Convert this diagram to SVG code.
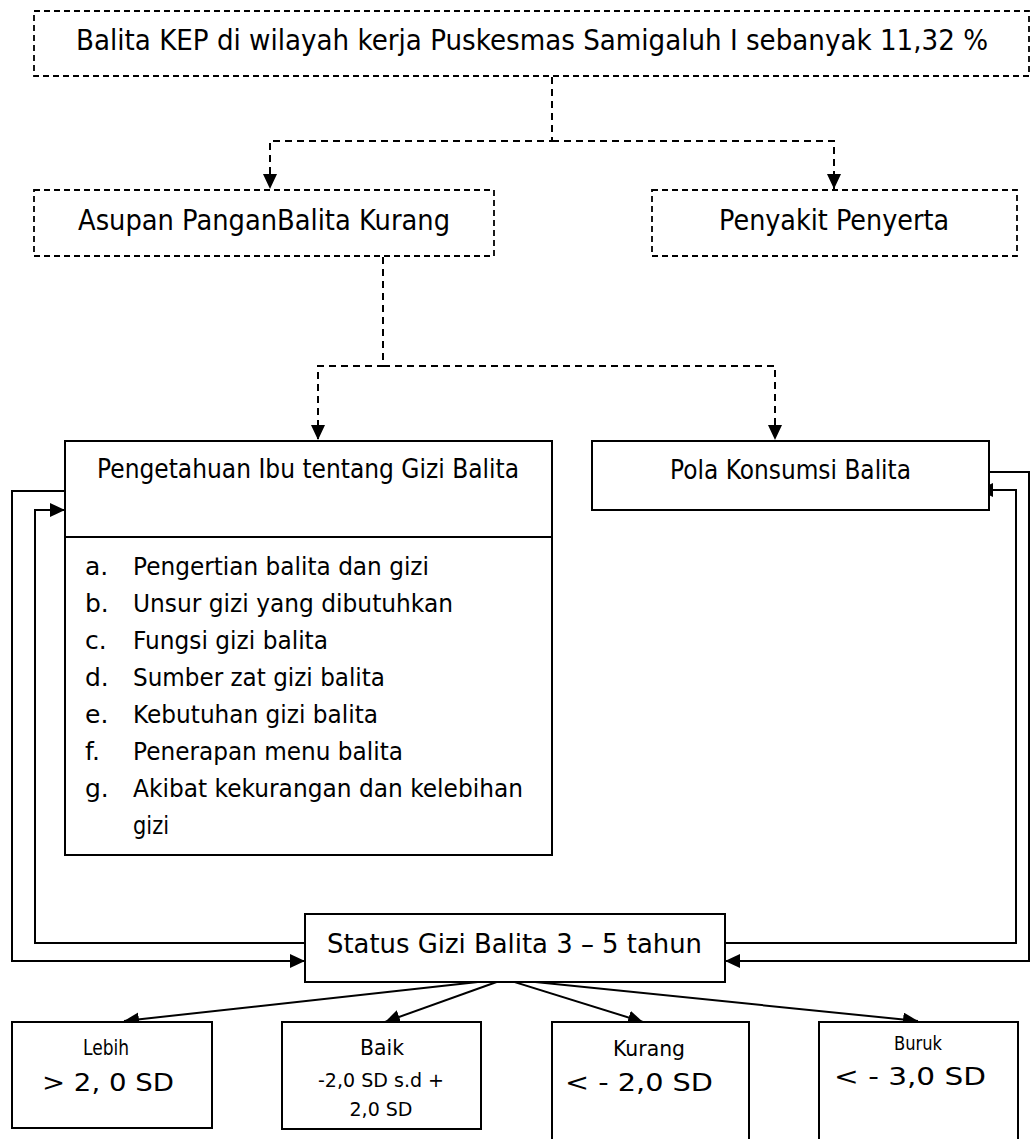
<svg xmlns="http://www.w3.org/2000/svg" width="1031" height="1139" viewBox="0 0 1031 1139">
<style>
text{font-family:"DejaVu Sans","Liberation Sans",sans-serif;fill:#000}
.dbox{fill:none;stroke:#000;stroke-width:1.8;stroke-dasharray:6 4}
.box{fill:#fff;stroke:#000;stroke-width:2}
.dline{fill:none;stroke:#000;stroke-width:2;stroke-dasharray:7 5}
.line{fill:none;stroke:#000;stroke-width:2}
.t28{font-size:28px}
.t27{font-size:27px}
.t26{font-size:26px}
.t25{font-size:25px}
.t21{font-size:21px}
.t20{font-size:20px}
.t19{font-size:19px}
</style>
<defs>
<marker id="ah" markerUnits="userSpaceOnUse" markerWidth="15" markerHeight="14" refX="15" refY="7" orient="auto">
<path d="M0,0 L15,7 L0,14 z" fill="#000"/>
</marker>
</defs>

<g id="connectors">
<path class="dline" d="M552,77 V141 H270 V189" marker-end="url(#ah)"/>
<path class="dline" d="M552,141 H834 V189" marker-end="url(#ah)"/>
<path class="dline" d="M383,257 V366 H318 V440" marker-end="url(#ah)"/>
<path class="dline" d="M383,366 H775 V440" marker-end="url(#ah)"/>
<path class="line" d="M65,491 H12 V961 H305" marker-end="url(#ah)"/>
<path class="line" d="M305,943 H35 V510 H65" marker-end="url(#ah)"/>
<path class="line" d="M989,472 H1029 V961 H725" marker-end="url(#ah)"/>
<path class="line" d="M725,943 H1016 V490 H978" marker-end="url(#ah)"/>
<path class="line" d="M505,979 L124,1021" marker-end="url(#ah)"/>
<path class="line" d="M505,979 L385,1022" marker-end="url(#ah)"/>
<path class="line" d="M505,979 L643,1022" marker-end="url(#ah)"/>
<path class="line" d="M505,979 L918,1021" marker-end="url(#ah)"/>
</g>

<g id="node-kep">
<rect class="dbox" x="34" y="11" width="995" height="65"/>
<text class="t28" x="76" y="50" textLength="912" lengthAdjust="spacingAndGlyphs">Balita KEP di wilayah kerja Puskesmas Samigaluh I sebanyak 11,32 %</text>
</g>

<g id="node-asupan">
<rect class="dbox" x="34" y="190" width="460" height="66"/>
<text class="t28" x="78" y="230" textLength="372" lengthAdjust="spacingAndGlyphs">Asupan PanganBalita Kurang</text>
</g>

<g id="node-penyakit">
<rect class="dbox" x="652" y="190" width="365" height="66"/>
<text class="t28" x="719" y="230" textLength="230" lengthAdjust="spacingAndGlyphs">Penyakit Penyerta</text>
</g>

<g id="node-pengetahuan">
<rect class="box" x="65" y="441" width="487" height="414"/>
<line class="line" x1="65" y1="537" x2="552" y2="537"/>
<text class="t26" x="97" y="478" textLength="422" lengthAdjust="spacingAndGlyphs">Pengetahuan Ibu tentang Gizi Balita</text>
<g class="t25">
<text x="85" y="575">a.</text><text x="133" y="575" textLength="296" lengthAdjust="spacingAndGlyphs">Pengertian balita dan gizi</text>
<text x="85" y="612">b.</text><text x="133" y="612" textLength="320" lengthAdjust="spacingAndGlyphs">Unsur gizi yang dibutuhkan</text>
<text x="85" y="649">c.</text><text x="133" y="649" textLength="195" lengthAdjust="spacingAndGlyphs">Fungsi gizi balita</text>
<text x="85" y="686">d.</text><text x="133" y="686" textLength="252" lengthAdjust="spacingAndGlyphs">Sumber zat gizi balita</text>
<text x="85" y="723">e.</text><text x="133" y="723" textLength="245" lengthAdjust="spacingAndGlyphs">Kebutuhan gizi balita</text>
<text x="85" y="760">f.</text><text x="133" y="760" textLength="270" lengthAdjust="spacingAndGlyphs">Penerapan menu balita</text>
<text x="85" y="797">g.</text><text x="133" y="797" textLength="390" lengthAdjust="spacingAndGlyphs">Akibat kekurangan dan kelebihan</text>
<text x="133" y="834" textLength="36" lengthAdjust="spacingAndGlyphs">gizi</text>
</g>
</g>

<g id="node-pola">
<rect class="box" x="592" y="441" width="397" height="69"/>
<text class="t26" x="670" y="479" textLength="241" lengthAdjust="spacingAndGlyphs">Pola Konsumsi Balita</text>
</g>

<g id="node-status">
<rect class="box" x="305" y="914" width="420" height="68"/>
<text class="t27" x="327" y="953" textLength="375" lengthAdjust="spacingAndGlyphs">Status Gizi Balita 3 – 5 tahun</text>
</g>

<g id="node-lebih">
<rect class="box" x="12" y="1022" width="200" height="106"/>
<text class="t21" x="106" y="1055" text-anchor="middle" textLength="46" lengthAdjust="spacingAndGlyphs">Lebih</text>
<text class="t25" x="108" y="1091" text-anchor="middle" textLength="132" lengthAdjust="spacingAndGlyphs">&gt; 2, 0 SD</text>
</g>

<g id="node-baik">
<rect class="box" x="282" y="1022" width="199" height="107"/>
<text class="t21" x="382" y="1055" text-anchor="middle" textLength="44" lengthAdjust="spacingAndGlyphs">Baik</text>
<text class="t20" x="381" y="1087" text-anchor="middle" textLength="126" lengthAdjust="spacingAndGlyphs">-2,0 SD s.d +</text>
<text class="t20" x="381" y="1116" text-anchor="middle" textLength="63" lengthAdjust="spacingAndGlyphs">2,0 SD</text>
</g>

<g id="node-kurang">
<rect class="box" x="552" y="1022" width="197" height="130"/>
<text class="t21" x="649" y="1056" text-anchor="middle" textLength="72" lengthAdjust="spacingAndGlyphs">Kurang</text>
<text class="t25" x="639" y="1091" text-anchor="middle" textLength="148" lengthAdjust="spacingAndGlyphs">&lt; - 2,0 SD</text>
</g>

<g id="node-buruk">
<rect class="box" x="819" y="1022" width="199" height="130"/>
<text class="t19" x="918" y="1050" text-anchor="middle" textLength="48" lengthAdjust="spacingAndGlyphs">Buruk</text>
<text class="t25" x="910" y="1085" text-anchor="middle" textLength="152" lengthAdjust="spacingAndGlyphs">&lt; - 3,0 SD</text>
</g>
</svg>
